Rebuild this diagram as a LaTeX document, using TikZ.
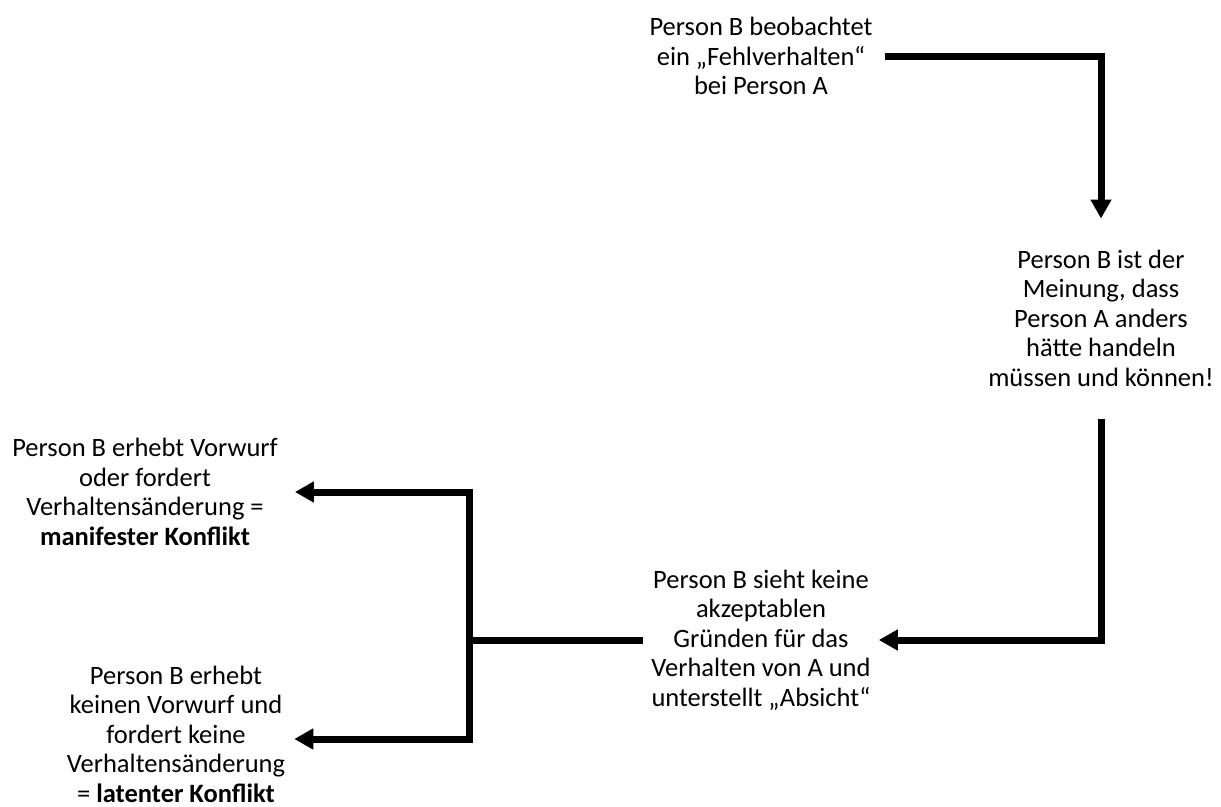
\documentclass[tikz,border=0pt]{standalone}
\usepackage{fontspec}
\setmainfont{Carlito}
\usetikzlibrary{arrows.meta}
\tikzset{
  txt/.style={align=center, inner sep=0pt, font=\fontsize{26.5pt}{29.5pt}\selectfont},
  conn/.style={line width=7pt},
  flow/.style={conn, -{Triangle[length=19pt,width=20pt]}},
}
\begin{document}
\begin{tikzpicture}
    \def\x{1pt}
    \def\y{-1pt}
    \useasboundingbox (0,0) rectangle (1221*\x, 806*\y);
    \node[txt] (obs) at (761*\x, 56*\y) {Person B beobachtet\\ein „Fehlverhalten“\\bei Person A};
    \node[txt] (opin) at (1101*\x, 318*\y) {Person B ist der\\Meinung, dass\\Person A anders\\hätte handeln\\müssen und können!};
    \node[txt] (grund) at (761*\x, 640*\y) {Person B sieht keine\\akzeptablen\\Gründen für das\\Verhalten von A und\\unterstellt „Absicht“};
    \node[txt] (manif) at (145*\x, 492*\y) {Person B erhebt Vorwurf\\oder fordert\\Verhaltensänderung =\\\textbf{manifester Konflikt}};
    \node[txt] (latent) at (176*\x, 734*\y) {Person B erhebt\\keinen Vorwurf und\\fordert keine\\Verhaltensänderung\\= \textbf{latenter Konflikt}};
    \coordinate (split) at (469*\x, 640*\y);
    \draw[flow, shorten <=12pt, shorten >=31pt] (obs.east) -| (opin.north);
    \draw[flow, shorten <=32pt, shorten >=8pt] (opin.south) |- (grund.east);
    \draw[conn, shorten <=8pt] (grund.west) -- (split);
    \draw[flow, shorten >=17pt] (split) |- (manif.east);
    \draw[flow, shorten >=9pt] (split) |- ([yshift=-5pt]latent.east);
  \end{tikzpicture}
\end{document}
